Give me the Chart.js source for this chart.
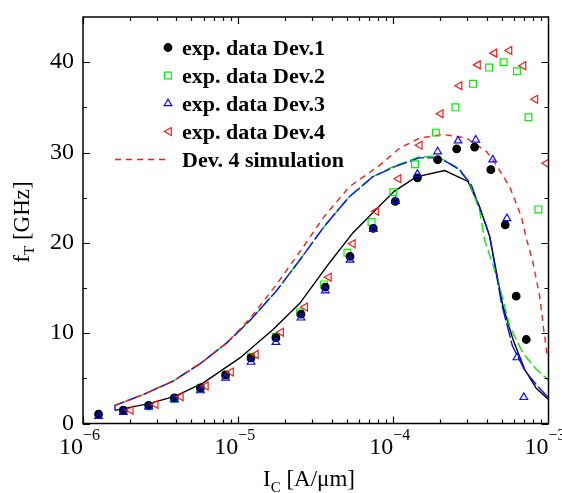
<!DOCTYPE html>
<html>
<head>
<meta charset="utf-8">
<script src="https://cdn.jsdelivr.net/npm/chart.js@4.4.1/dist/chart.umd.min.js"></script>
<style>
  html, body { margin: 0; padding: 0; background: #fff; }
</style>
</head>
<body>
<canvas id="ft-chart" width="562" height="493"></canvas>
<script>
// I_C in A/um, f_T in GHz
var dev1X = [1.26e-6, 1.82e-6, 2.65e-6, 3.88e-6, 5.71e-6, 8.30e-6, 1.21e-5, 1.75e-5, 2.54e-5, 3.64e-5, 5.26e-5, 7.43e-5, 1.03e-4, 1.43e-4, 1.93e-4, 2.56e-4, 3.34e-4, 4.25e-4, 5.26e-4, 6.19e-4, 7.19e-4];
var dev1Y = [1.03, 1.47, 2.0, 2.84, 3.94, 5.38, 7.26, 9.5, 12.1, 15.1, 18.5, 21.6, 24.6, 27.2, 29.2, 30.4, 30.6, 28.1, 22.0, 14.1, 9.3];

var dev2X = [1.82e-6, 2.65e-6, 3.88e-6, 5.71e-6, 8.30e-6, 1.21e-5, 1.75e-5, 2.51e-5, 3.58e-5, 5.06e-5, 7.23e-5, 1.0e-4, 1.38e-4, 1.88e-4, 2.51e-4, 3.26e-4, 4.14e-4, 5.14e-4, 6.26e-4, 7.43e-4, 8.61e-4];
var dev2Y = [1.4, 1.9, 2.7, 3.9, 5.4, 7.4, 9.6, 12.3, 15.4, 18.9, 22.3, 25.6, 28.7, 32.2, 35.0, 37.6, 39.4, 40.0, 39.0, 33.9, 23.7];

var dev3X = [1.26e-6, 1.82e-6, 2.65e-6, 3.88e-6, 5.71e-6, 8.30e-6, 1.21e-5, 1.75e-5, 2.54e-5, 3.64e-5, 5.26e-5, 7.43e-5, 1.03e-4, 1.43e-4, 1.93e-4, 2.61e-4, 3.40e-4, 4.37e-4, 5.40e-4, 6.26e-4, 6.93e-4];
var dev3Y = [0.8, 1.25, 1.85, 2.65, 3.65, 5.05, 6.8, 9.0, 11.7, 14.7, 18.1, 21.5, 24.6, 27.6, 30.1, 31.3, 31.4, 29.2, 22.7, 7.3, 2.9];

var dev4X = [2.03e-6, 2.94e-6, 4.27e-6, 6.19e-6, 8.99e-6, 1.30e-5, 1.89e-5, 2.70e-5, 3.84e-5, 5.48e-5, 7.74e-5, 1.08e-4, 1.48e-4, 2.02e-4, 2.67e-4, 3.51e-4, 4.48e-4, 5.60e-4, 6.89e-4, 8.22e-4, 9.68e-4];
var dev4Y = [1.47, 2.1, 2.95, 4.15, 5.7, 7.65, 10.1, 12.9, 16.2, 19.9, 23.5, 27.1, 30.8, 34.3, 37.4, 39.7, 41.0, 41.3, 39.6, 35.9, 28.8];

// simulated curves
var sim1X = [1.607e-6, 2.649e-6, 3.908e-6, 5.957e-6, 1.026e-5, 1.679e-5, 2.495e-5, 3.882e-5, 5.483e-5, 7.345e-5, 1.012e-4, 1.406e-4, 2.143e-4, 3.027e-4, 3.597e-4, 4.178e-4, 5.082e-4, 5.902e-4, 7.015e-4, 8.337e-4, 1e-3];
var sim1Y = [1.45, 2.2, 3.0, 4.5, 7.26, 10.4, 13.3, 17.8, 21.1, 23.3, 25.7, 27.3, 28.0, 26.8, 24.0, 20.7, 13.0, 9.3, 6.0, 3.9, 2.65];

var sim2X = [1.607e-6, 2.443e-6, 3.811e-6, 5.662e-6, 8.414e-6, 1.189e-5, 1.750e-5, 2.495e-5, 3.581e-5, 5.200e-5, 7.345e-5, 1.012e-4, 1.466e-4, 1.897e-4, 2.547e-4, 3.105e-4, 3.597e-4, 3.873e-4, 4.721e-4, 5.623e-4, 6.839e-4, 8.337e-4, 1e-3];
var sim2Y = [2.0, 3.2, 4.7, 6.6, 8.9, 11.4, 14.6, 18.1, 21.8, 25.1, 27.3, 28.5, 29.5, 29.6, 28.4, 26.6, 23.6, 20.3, 15.9, 10.75, 7.8, 6.0, 4.8];

var sim3X = [1.607e-6, 1.607e-6, 2.443e-6, 3.811e-6, 5.662e-6, 8.414e-6, 1.189e-5, 1.750e-5, 2.495e-5, 3.581e-5, 5.200e-5, 7.345e-5, 1.012e-4, 1.466e-4, 1.995e-4, 2.673e-4, 3.184e-4, 3.981e-4, 4.178e-4, 4.977e-4, 5.848e-4, 7.015e-4, 8.337e-4, 1e-3];
var sim3Y = [1.45, 2.0, 3.2, 4.7, 6.6, 8.9, 11.4, 14.6, 18.1, 21.8, 25.1, 27.3, 28.4, 29.4, 29.4, 28.1, 26.4, 21.8, 20.7, 13.3, 8.6, 5.9, 4.3, 2.85];

var sim4X = [1.607e-6, 2.443e-6, 3.811e-6, 5.662e-6, 8.414e-6, 1.189e-5, 1.750e-5, 2.495e-5, 3.581e-5, 5.200e-5, 8.185e-5, 1.102e-4, 1.479e-4, 2.089e-4, 2.958e-4, 3.981e-4, 4.385e-4, 5.623e-4, 6.683e-4, 7.194e-4, 7.943e-4, 8.770e-4, 9.311e-4, 9.772e-4, 1e-3];
var sim4Y = [2.0, 3.2, 4.7, 6.6, 8.9, 11.6, 15.3, 19.0, 22.9, 26.2, 28.6, 30.5, 31.6, 32.0, 31.6, 30.1, 29.2, 26.2, 22.9, 20.5, 17.8, 14.1, 10.4, 7.8, 7.0];

var yTicks = [0, 10, 20, 30, 40];
var xDecades = [-6, -5, -4, -3];

var legendItems = ['exp. data Dev.1', 'exp. data Dev.2', 'exp. data Dev.3', 'exp. data Dev.4', 'Dev. 4 simulation'];

var RED = '#ff1a1a', GREEN = '#00ee00', BLUE = '#0a0aff';
var SERIF = '"Liberation Serif", "Times New Roman", serif';

function pts(xs, ys) {
	return xs.map(function (x, i) { return {x: x, y: ys[i]}; });
}

function markerSet(label, xs, ys, style, color, fill, radius, rotation) {
	return {
		label: label,
		data: pts(xs, ys),
		showLine: false,
		pointStyle: style,
		pointRotation: rotation || 0,
		pointRadius: radius,
		pointBorderWidth: 1.2,
		pointBorderColor: color,
		pointBackgroundColor: fill
	};
}

function lineSet(label, xs, ys, color, dash) {
	return {
		label: label,
		data: pts(xs, ys),
		showLine: true,
		borderColor: color,
		borderWidth: 1.4,
		borderDash: dash,
		pointRadius: 0,
		tension: 0
	};
}

// first dataset ends up on top
var datasets = [
	markerSet('exp. data Dev.4', dev4X, dev4Y, 'triangle', RED, 'rgba(0,0,0,0)', 4.6, -90),
	markerSet('exp. data Dev.3', dev3X, dev3Y, 'triangle', BLUE, 'rgba(0,0,0,0)', 4.4),
	markerSet('exp. data Dev.1', dev1X, dev1Y, 'circle', '#000', '#000', 3.8),
	markerSet('exp. data Dev.2', dev2X, dev2Y, 'rect', GREEN, 'rgba(0,0,0,0)', 4.8),
	lineSet('Dev. 4 simulation', sim4X, sim4Y, RED, [6, 5]),
	lineSet('Dev. 3 simulation', sim3X, sim3Y, BLUE, [15, 3]),
	lineSet('Dev. 2 simulation', sim2X, sim2Y, GREEN, [10, 4]),
	lineSet('Dev. 1 simulation', sim1X, sim1Y, '#000', [])
];

function drawMarker(ctx, style, x, y, color, fill, r, rot) {
	ctx.save();
	ctx.strokeStyle = color;
	ctx.fillStyle = fill;
	ctx.lineWidth = 1.2;
	Chart.helpers.drawPoint(ctx, {pointStyle: style, radius: r, rotation: rot || 0, borderWidth: 1.2}, x, y);
	ctx.restore();
}

var framePlugin = {
	id: 'frame',
	afterDraw: function (chart) {
		var ctx = chart.ctx, a = chart.chartArea;
		var xs = chart.scales.x, ys = chart.scales.y;
		ctx.save();
		ctx.strokeStyle = '#000';
		ctx.lineWidth = 1.5;
		ctx.strokeRect(a.left, a.top, a.right - a.left, a.bottom - a.top);

		// inward ticks on all four sides
		ctx.lineWidth = 1.2;
		ctx.beginPath();
		for (var v = 0; v <= 40; v += 5) {
			var py = Math.round(ys.getPixelForValue(v)) + 0.5;
			var len = (v % 10 === 0) ? 7 : 4;
			ctx.moveTo(a.left, py); ctx.lineTo(a.left + len, py);
			ctx.moveTo(a.right, py); ctx.lineTo(a.right - len, py);
		}
		for (var d = -6; d < -3; d++) {
			for (var m = 1; m <= 9; m++) {
				var px = Math.round(xs.getPixelForValue(m * Math.pow(10, d))) + 0.5;
				var l = (m === 1) ? 7 : 4;
				ctx.moveTo(px, a.bottom); ctx.lineTo(px, a.bottom - l);
				ctx.moveTo(px, a.top); ctx.lineTo(px, a.top + l);
			}
		}
		ctx.stroke();

		// tick labels
		ctx.fillStyle = '#000';
		ctx.font = '24px ' + SERIF;
		ctx.textAlign = 'right';
		ctx.textBaseline = 'middle';
		yTicks.forEach(function (t) {
			ctx.fillText(String(t), a.left - 9, ys.getPixelForValue(t));
		});
		ctx.textBaseline = 'alphabetic';
		xDecades.forEach(function (e) {
			var px = xs.getPixelForValue(Math.pow(10, e));
			ctx.font = '24px ' + SERIF;
			ctx.textAlign = 'right';
			ctx.fillText('10', px, 454);
			ctx.font = '16px ' + SERIF;
			ctx.textAlign = 'left';
			ctx.fillText('\u2212' + (-e), px, 440);
		});

		// axis titles
		ctx.font = '23px ' + SERIF;
		ctx.textAlign = 'left';
		var w1 = ctx.measureText('I').width;
		ctx.font = '15px ' + SERIF;
		var w2 = ctx.measureText('C').width;
		ctx.font = '23px ' + SERIF;
		var w3 = ctx.measureText(' [A/\u03bcm]').width;
		var x0 = 309 - (w1 + w2 + w3) / 2;
		ctx.fillText('I', x0, 486);
		ctx.font = '15px ' + SERIF;
		ctx.fillText('C', x0 + w1, 492);
		ctx.font = '23px ' + SERIF;
		ctx.fillText(' [A/\u03bcm]', x0 + w1 + w2, 486);

		ctx.save();
		ctx.translate(29, 222);
		ctx.rotate(-Math.PI / 2);
		ctx.font = '23px ' + SERIF;
		var f1 = ctx.measureText('f').width;
		ctx.font = '15px ' + SERIF;
		var f2 = ctx.measureText('T').width;
		ctx.font = '23px ' + SERIF;
		var f3 = ctx.measureText(' [GHz]').width;
		var s0 = -(f1 + f2 + f3) / 2;
		ctx.fillText('f', s0, 0);
		ctx.font = '15px ' + SERIF;
		ctx.fillText('T', s0 + f1, 5);
		ctx.font = '23px ' + SERIF;
		ctx.fillText(' [GHz]', s0 + f1 + f2, 0);
		ctx.restore();

		// legend inside the plot
		var rows = [47.5, 75.5, 103.5, 131.5, 159.5];
		drawMarker(ctx, 'circle', 168, rows[0], '#000', '#000', 3.8);
		drawMarker(ctx, 'rect', 168, rows[1], GREEN, 'rgba(0,0,0,0)', 4.8);
		drawMarker(ctx, 'triangle', 168, rows[2], BLUE, 'rgba(0,0,0,0)', 4.4);
		drawMarker(ctx, 'triangle', 169, rows[3], RED, 'rgba(0,0,0,0)', 4.6, -90);
		ctx.strokeStyle = RED;
		ctx.lineWidth = 1.4;
		ctx.setLineDash([6, 5]);
		ctx.beginPath();
		ctx.moveTo(115, rows[4]); ctx.lineTo(168, rows[4]);
		ctx.stroke();
		ctx.setLineDash([]);
		ctx.fillStyle = '#000';
		ctx.font = 'bold 22px ' + SERIF;
		ctx.textAlign = 'left';
		legendItems.forEach(function (t, i) {
			ctx.fillText(t, 182, rows[i] + 7);
		});
		ctx.restore();
	}
};

new Chart('ft-chart', {
	type: 'scatter',
	data: { datasets: datasets },
	options: {
		responsive: false,
		animation: false,
		devicePixelRatio: 1,
		layout: { padding: { top: 17, right: 13.5, left: 0, bottom: 0 } },
		plugins: { legend: { display: false }, tooltip: { enabled: false } },
		scales: {
			x: {
				type: 'logarithmic',
				min: 1e-6,
				max: 1e-3,
				grid: { display: false },
				border: { display: false },
				ticks: { display: false },
				afterFit: function (s) { s.height = 69.5; }
			},
			y: {
				min: 0,
				max: 45,
				grid: { display: false },
				border: { display: false },
				ticks: { display: false },
				afterFit: function (s) { s.width = 83; }
			}
		}
	},
	plugins: [framePlugin]
});
</script>
</body>
</html>
